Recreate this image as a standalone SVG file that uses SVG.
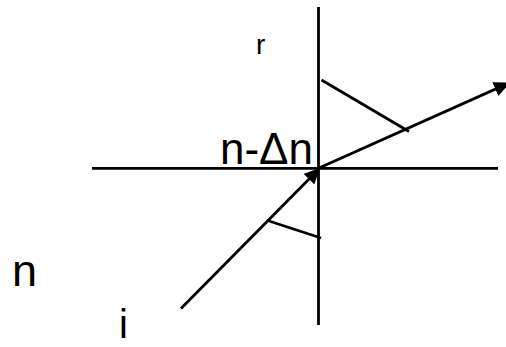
<svg xmlns="http://www.w3.org/2000/svg" width="506" height="347" viewBox="0 0 506 347">
<style>
.ln{stroke:#000;stroke-width:2.8;fill:none}
.t{font-family:"Liberation Sans",Arial,sans-serif;fill:#000}
</style>
<defs>
<marker id="ah" viewBox="0 0 16 15" refX="15" refY="7.5" markerWidth="16" markerHeight="15" markerUnits="userSpaceOnUse" orient="auto">
<path d="M0,0 L16,7.5 L0,15 z" fill="#000"/>
</marker>
</defs>
<rect width="506" height="347" fill="#fff"/>
<g id="connectors">
<line id="normal" class="ln" x1="318.5" y1="7" x2="318.5" y2="325"/>
<line id="interface" class="ln" x1="92" y1="168.3" x2="498" y2="168.3"/>
<line id="incident" class="ln" x1="181" y1="308.5" x2="319.5" y2="168.5" marker-end="url(#ah)"/>
<line id="refracted" class="ln" x1="318.5" y1="168.3" x2="509" y2="83" marker-end="url(#ah)"/>
<line id="perp-r" class="ln" x1="321.5" y1="80" x2="409" y2="131.5"/>
<line id="perp-i" class="ln" x1="269" y1="221" x2="321" y2="238"/>
</g>
<g id="label-r"><text class="t" x="256" y="54" font-size="28">r</text></g>
<g id="label-n2"><text class="t" x="220" y="164" font-size="44">n-Δn</text></g>
<g id="label-n"><text class="t" x="12" y="286" font-size="45">n</text></g>
<g id="label-i"><text class="t" x="119" y="338" font-size="40">i</text></g>
</svg>
